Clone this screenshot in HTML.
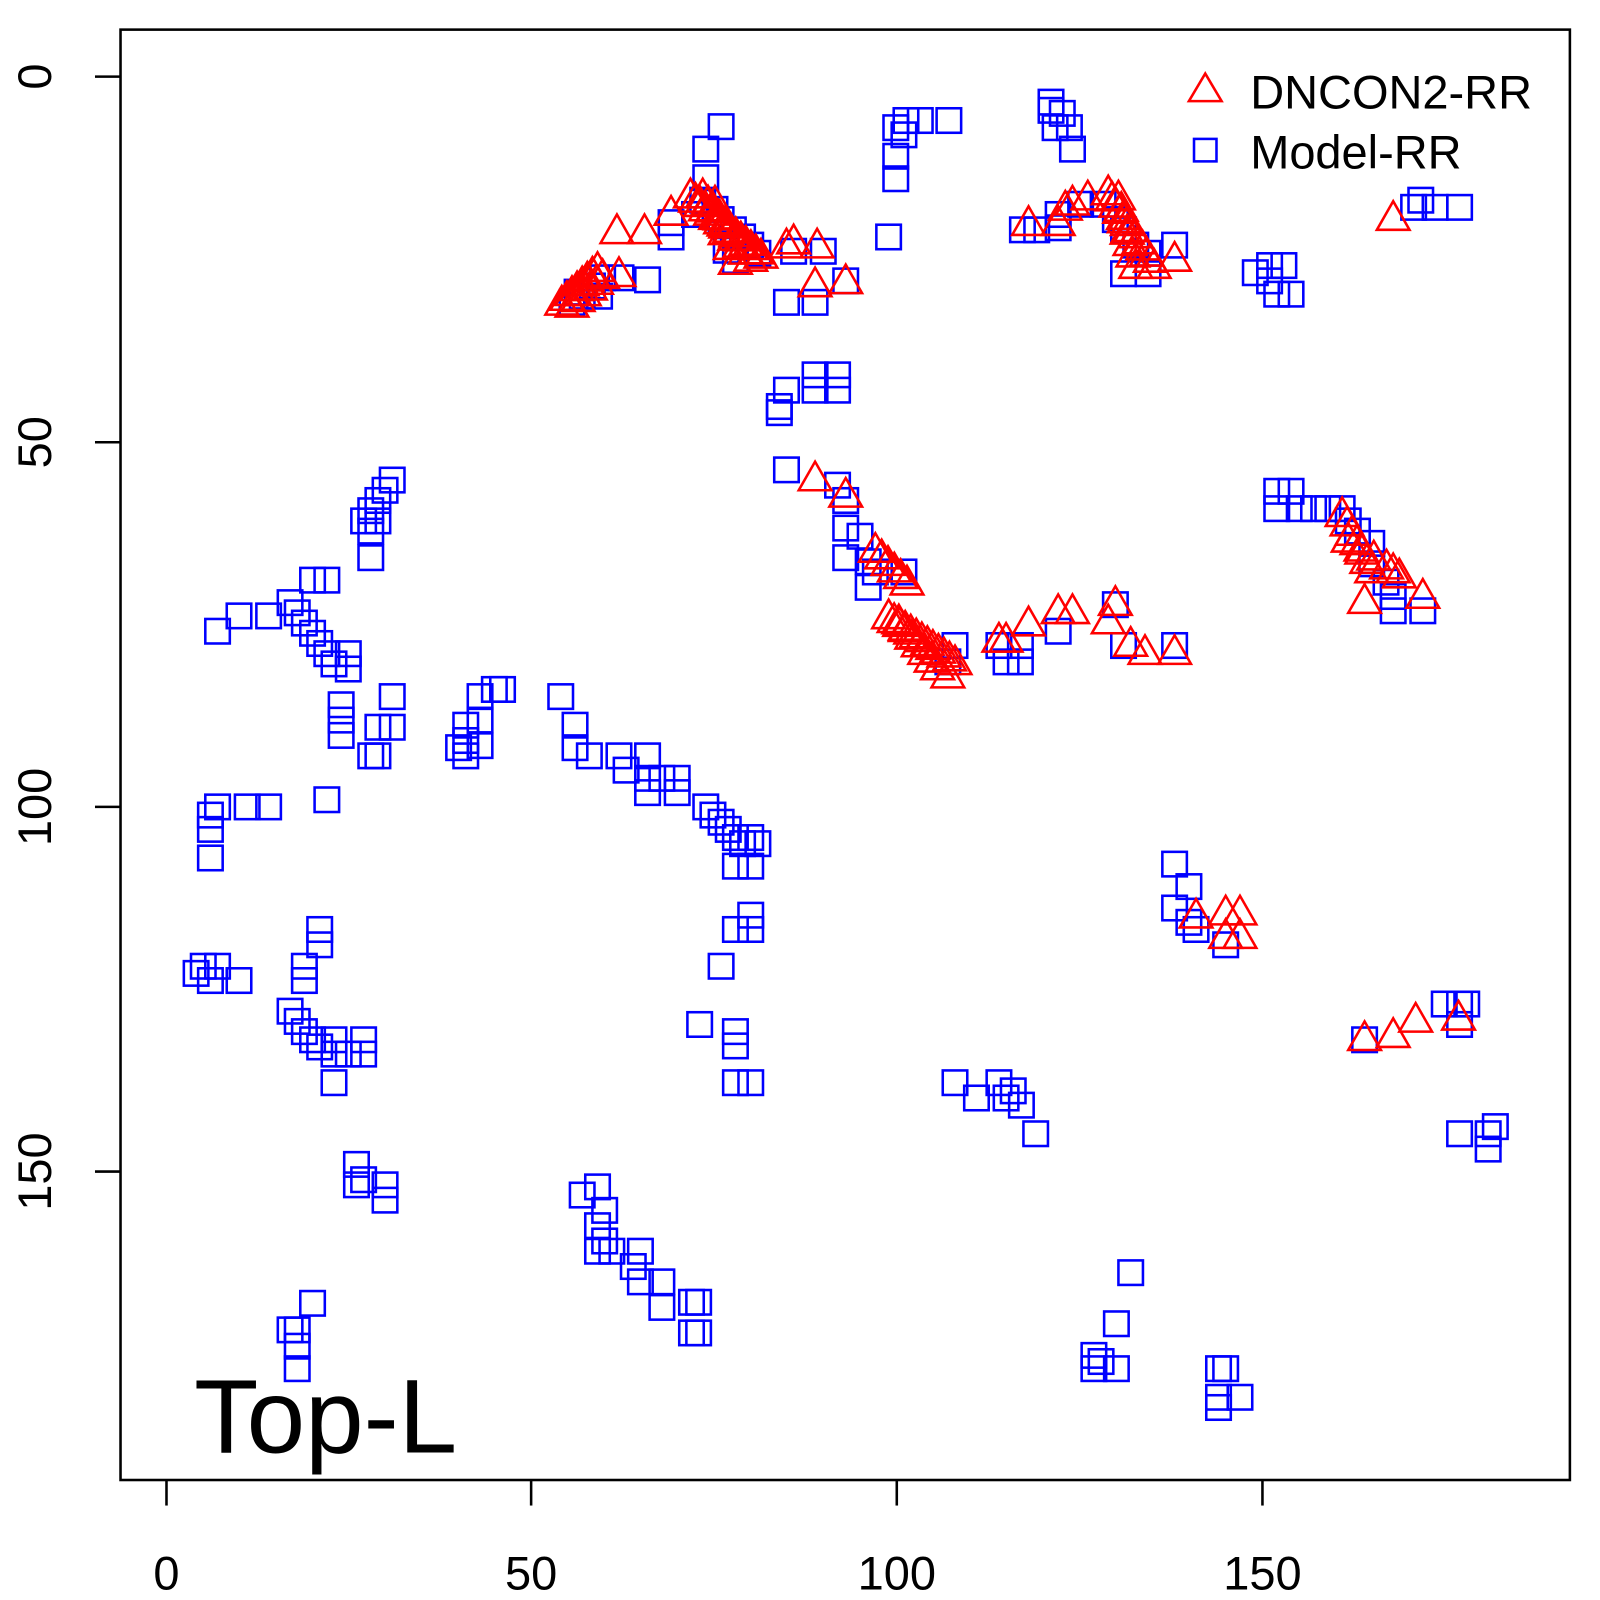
<!DOCTYPE html>
<html><head><meta charset="utf-8"><style>
html,body{margin:0;padding:0;background:#fff;width:1600px;height:1600px;overflow:hidden}
text{font-family:"Liberation Sans",sans-serif}
</style></head><body>
<svg id="s" width="1600" height="1600" xmlns="http://www.w3.org/2000/svg">
<g transform="scale(1.0214)">
<rect x="118" y="29" width="1419" height="1420" fill="none" stroke="#000" stroke-width="2.5"/>
<g stroke="#000" stroke-width="2.5">
<line x1="163" y1="1449" x2="163" y2="1474"/><line x1="520" y1="1449" x2="520" y2="1474"/>
<line x1="878" y1="1449" x2="878" y2="1474"/><line x1="1236" y1="1449" x2="1236" y2="1474"/>
<line x1="118" y1="75" x2="93" y2="75"/><line x1="118" y1="433" x2="93" y2="433"/>
<line x1="118" y1="790" x2="93" y2="790"/><line x1="118" y1="1147" x2="93" y2="1147"/>
</g>
<g font-size="46" text-anchor="middle">
<text x="163" y="1556">0</text><text x="520" y="1556">50</text><text x="878" y="1556">100</text><text x="1236" y="1556">150</text>
<text transform="translate(50,75) rotate(-90)">0</text>
<text transform="translate(50,433) rotate(-90)">50</text>
<text transform="translate(50,790) rotate(-90)">100</text>
<text transform="translate(50,1147) rotate(-90)">150</text>
</g>
<text x="190" y="1422" font-size="103">Top-L</text>
<polygon points="1164,99 1196,99 1180,72" fill="none" stroke="#f00" stroke-width="2.5"/>
<rect x="1169" y="136" width="22" height="22" fill="none" stroke="#00f" stroke-width="2.5"/>
<text x="1224" y="106" font-size="46">DNCON2-RR</text>
<text x="1224" y="165" font-size="46">Model-RR</text>
<g id="sq" fill="none" stroke="#00f" stroke-width="2.5"></g>
<g id="tr" fill="none" stroke="#f00" stroke-width="2.5"></g>
</g>
</svg>
<script>
var S=[[706,124],[691,146],[691,174],[688,196],[700,205],[706,215],[718,225],[727,232],[735,240],[742,248],[711,245],[720,255],[657,218],[657,232],[680,210],[634,274],[608,272],[590,272],[580,280],[570,290],[560,296],[565,286],[587,290],[770,296],[798,296],[828,275],[806,246],[777,246],[870,232],
[877,125],[887,118],[901,118],[929,118],[877,153],[877,175],[885,132],
[1029,108],[1040,111],[1033,125],[1047,125],[1050,146],[1029,100],
[1001,225],[1015,225],[1036,223],[1036,210],[1058,200],[1080,200],[1092,215],[1100,225],[1112,240],[1124,248],[1150,240],[1100,268],[1124,268],
[1229,267],[1243,260],[1257,260],[1250,288],[1264,288],[1243,275],
[1391,196],[1384,203],[1405,203],[1429,203],
[770,382],[763,398],[763,404],[798,367],[820,367],[820,382],[798,382],
[770,460],[820,475],[828,490],[828,517],[842,525],[828,546],[850,550],[857,560],[850,575],[885,560],
[935,632],[928,648],[978,632],[999,632],[985,648],[999,648],[1036,618],[1092,592],[1100,632],[1150,632],
[1250,481],[1264,481],[1250,498],[1272,498],[1286,498],[1300,498],[1314,498],[1320,510],[1329,520],[1343,532],[1343,552],[1357,570],[1364,584],[1364,598],[1393,598],
[384,470],[377,480],[370,490],[363,500],[356,510],[363,520],[370,510],[363,546],[306,568],[320,568],[213,618],[234,603],[263,603],[284,590],[291,600],[298,610],[306,620],[313,630],[320,640],[327,650],[341,640],[341,655],[334,690],[334,705],[334,720],[384,682],[370,712],[384,712],[363,740],[370,740],
[449,732],[456,740],[456,710],[470,705],[470,682],[484,675],[492,675],[456,725],[470,730],
[549,682],[563,710],[563,732],[577,740],[606,740],[613,754],[634,740],[634,762],[634,776],[648,762],[663,762],[663,776],[691,790],[698,798],[706,805],[713,812],[720,820],[727,826],[735,820],[742,826],[720,848],[735,848],[720,910],[735,896],[735,910],[706,946],[685,1003],[720,1010],[720,1024],[720,1060],[735,1060],
[213,790],[206,798],[206,812],[206,840],[242,790],[263,790],[320,783],
[192,953],[199,946],[213,946],[206,960],[234,960],[298,946],[313,910],[313,925],[298,960],[284,990],[291,1000],[298,1010],[306,1018],[313,1025],[327,1018],[327,1032],[341,1032],[356,1018],[356,1032],[327,1060],
[349,1140],[349,1160],[377,1160],[377,1175],[356,1155],
[570,1170],[585,1162],[592,1185],[585,1200],[592,1215],[585,1225],[599,1225],[627,1225],[620,1240],[627,1255],[648,1255],[648,1280],[677,1275],[684,1275],[677,1305],[684,1305],
[306,1276],[284,1302],[291,1318],[291,1340],[291,1302],
[935,1060],[956,1075],[978,1060],[985,1075],[1000,1082],[1014,1110],[992,1068],
[1150,846],[1164,868],[1150,889],[1164,903],[1171,910],[1200,925],
[1107,1246],[1093,1296],[1071,1327],[1071,1340],[1093,1340],[1078,1333],
[1193,1340],[1200,1340],[1193,1368],[1214,1368],[1193,1378],
[1336,1018],[1414,983],[1429,983],[1436,983],[1429,1003],[1429,1110],[1457,1110],[1457,1125],[1464,1103]];
var T=[[606,270],[604,228],[631,228],[657,210],[770,242],[777,238],[800,242],[798,280],[828,277],[798,470],[828,486],[928,663],[978,628],[985,628],[1007,612],[1036,600],[1050,600],[1092,592],[1085,610],[1107,632],[1121,640],[1150,640],[1007,220],[1036,220],[1043,205],[1050,200],[1065,195],[1150,255],[1364,215],[1364,560],[1393,585],[1336,590],[1171,898],[1200,895],[1214,895],[1200,918],[1214,918],[1336,1018],[1364,1015],[1386,1000],[1428,998]];
function chain(a,b,n){for(var i=0;i<=n;i++)T.push([a[0]+(b[0]-a[0])*i/n,a[1]+(b[1]-a[1])*i/n]);}
chain([550,298],[585,265],7);chain([560,300],[590,272],5);
chain([676,193],[745,252],14);chain([688,193],[735,255],9);chain([700,200],[720,258],4);
chain([857,540],[888,572],5);chain([870,605],[935,650],12);chain([880,610],[918,655],6);
chain([1085,190],[1130,262],12);chain([1095,195],[1112,262],6);
chain([1314,505],[1343,560],6);chain([1320,530],[1370,565],4);
var ns="http://www.w3.org/2000/svg",g=document.getElementById("sq"),h=document.getElementById("tr");
S.forEach(function(p){var r=document.createElementNS(ns,"rect");r.setAttribute("x",p[0]-12);r.setAttribute("y",p[1]-12);r.setAttribute("width",24);r.setAttribute("height",24);g.appendChild(r);});
T.forEach(function(p){var r=document.createElementNS(ns,"polygon");var x=p[0],y=p[1];r.setAttribute("points",(x-16)+","+(y+10)+" "+(x+16)+","+(y+10)+" "+x+","+(y-18));h.appendChild(r);});
</script>
</body></html>
